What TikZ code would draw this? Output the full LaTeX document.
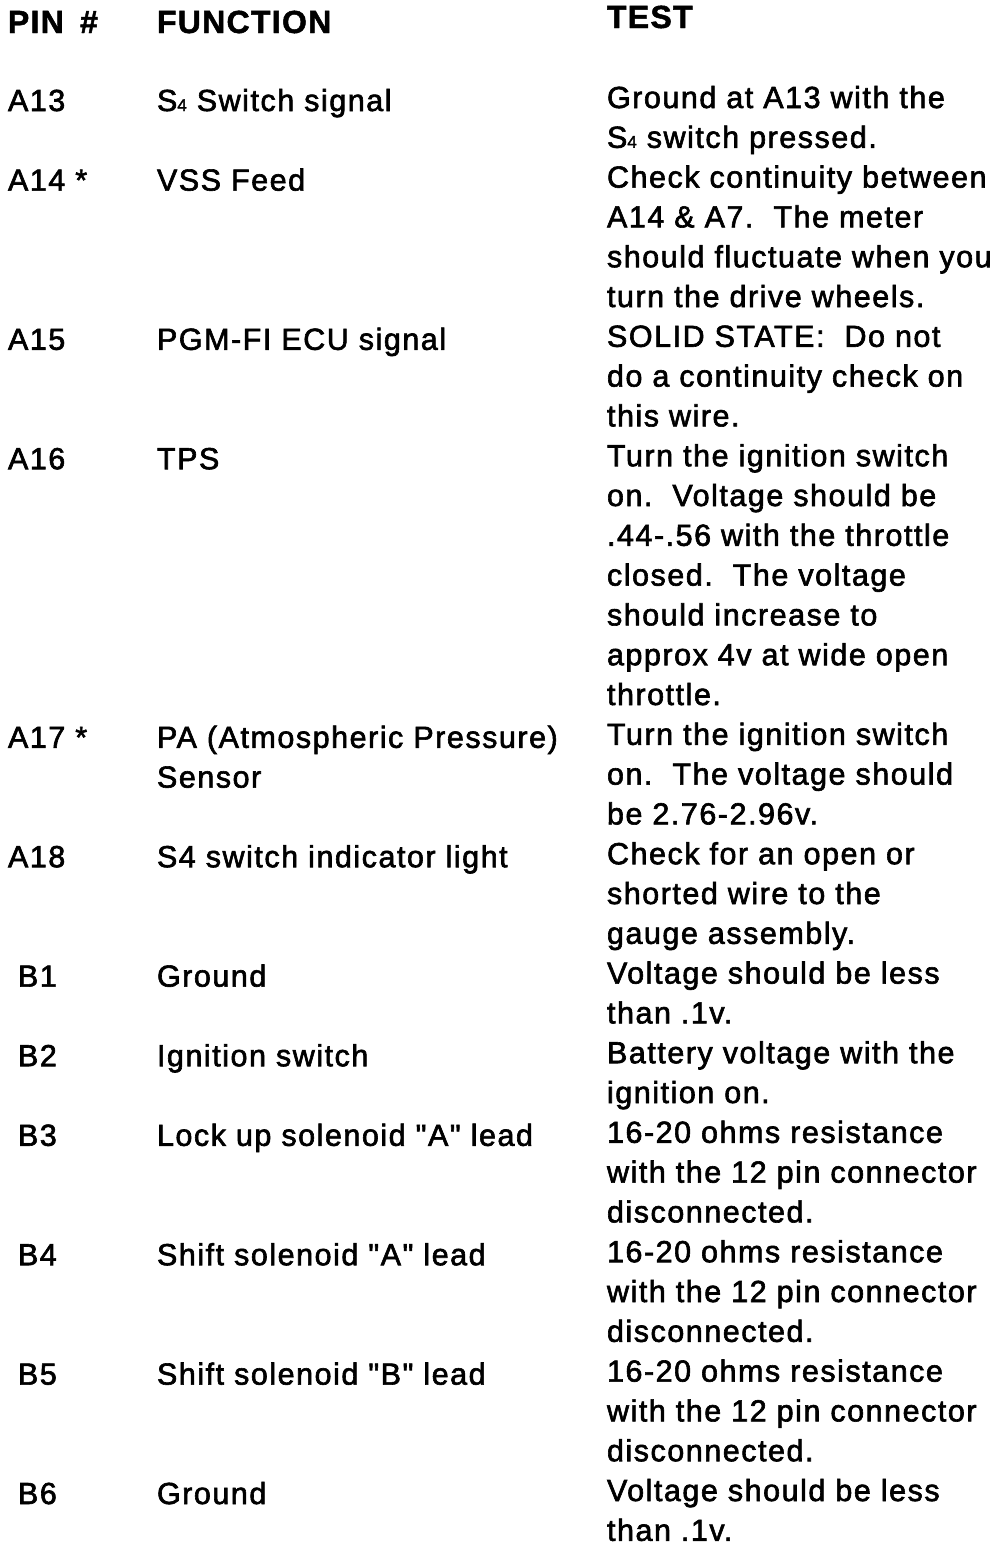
\documentclass[tikz,border=0pt]{standalone}
\usepackage{fontspec}
\setmainfont{Liberation Sans}[LetterSpace=5,FakeBold=2,Ligatures=TeXOff]
\newfontfamily\hdfont{Liberation Sans Bold}[LetterSpace=4,FakeBold=1.5,Ligatures=TeXOff]
\newcommand{\mycell}[1]{\begin{tabular}[t]{@{}l@{}}#1\end{tabular}}
\newcommand{\sfour}{S{\fontsize{17}{17}\selectfont 4}}
\begin{document}
\begin{tikzpicture}[x=1pt,y=-1pt,
  txt/.style={anchor=base west,inner sep=0pt,outer sep=0pt,
    font=\fontsize{30.5}{39.8}\selectfont},
  hd/.style={anchor=base west,inner sep=0pt,outer sep=0pt,
    font=\hdfont\fontsize{32}{39.8}\selectfont}]
\useasboundingbox[fill=white] (0,0) rectangle (1008,1550);
% headers
\node[hd] (hpin) at (8,33) {PIN\hspace{6pt} \#};
\node[hd] (hfun) at (157,33) {FUNCTION};
\node[hd] (htest) at (607,28) {TEST};
% rows: test baseline = 108 + 39.8 k, pin/function = +3
\node[txt] (p1) at (8,111) {A13};
\node[txt] (f1) at (157,111) {\sfour{} Switch signal};
\node[txt] (t1) at (607,108) {\mycell{Ground at A13 with the\\ \sfour{} switch pressed.}};

\node[txt] (p2) at (8,190.6) {A14 *};
\node[txt] (f2) at (157,190.6) {VSS Feed};
\node[txt] (t2) at (607,187.6) {\mycell{Check continuity between\\ A14 \& A7.\ \ The meter\\ should fluctuate when you\\ turn the drive wheels.}};

\node[txt] (p3) at (8,349.8) {A15};
\node[txt] (f3) at (157,349.8) {PGM-FI ECU signal};
\node[txt] (t3) at (607,346.8) {\mycell{SOLID STATE:\ \ Do not\\ do a continuity check on\\ this wire.}};

\node[txt] (p4) at (8,469.2) {A16};
\node[txt] (f4) at (157,469.2) {TPS};
\node[txt] (t4) at (607,466.2) {\mycell{Turn the ignition switch\\ on.\ \ Voltage should be\\ .44-.56 with the throttle\\ closed.\ \ The voltage\\ should increase to\\ approx 4v at wide open\\ throttle.}};

\node[txt] (p5) at (8,747.8) {A17 *};
\node[txt] (f5) at (157,747.8) {\mycell{PA (Atmospheric Pressure)\\ Sensor}};
\node[txt] (t5) at (607,744.8) {\mycell{Turn the ignition switch\\ on.\ \ The voltage should\\ be 2.76-2.96v.}};

\node[txt] (p6) at (8,867.2) {A18};
\node[txt] (f6) at (157,867.2) {S4 switch indicator light};
\node[txt] (t6) at (607,864.2) {\mycell{Check for an open or\\ shorted wire to the\\ gauge assembly.}};

\node[txt] (p7) at (18,986.6) {B1};
\node[txt] (f7) at (157,986.6) {Ground};
\node[txt] (t7) at (607,983.6) {\mycell{Voltage should be less\\ than .1v.}};

\node[txt] (p8) at (18,1066.2) {B2};
\node[txt] (f8) at (157,1066.2) {Ignition switch};
\node[txt] (t8) at (607,1063.2) {\mycell{Battery voltage with the\\ ignition on.}};

\node[txt] (p9) at (18,1145.8) {B3};
\node[txt] (f9) at (157,1145.8) {Lock up solenoid "A" lead};
\node[txt] (t9) at (607,1142.8) {\mycell{16-20 ohms resistance\\ with the 12 pin connector\\ disconnected.}};

\node[txt] (p10) at (18,1265.2) {B4};
\node[txt] (f10) at (157,1265.2) {Shift solenoid "A" lead};
\node[txt] (t10) at (607,1262.2) {\mycell{16-20 ohms resistance\\ with the 12 pin connector\\ disconnected.}};

\node[txt] (p11) at (18,1384.6) {B5};
\node[txt] (f11) at (157,1384.6) {Shift solenoid "B" lead};
\node[txt] (t11) at (607,1381.6) {\mycell{16-20 ohms resistance\\ with the 12 pin connector\\ disconnected.}};

\node[txt] (p12) at (18,1504) {B6};
\node[txt] (f12) at (157,1504) {Ground};
\node[txt] (t12) at (607,1501) {\mycell{Voltage should be less\\ than .1v.}};
\end{tikzpicture}
\end{document}
